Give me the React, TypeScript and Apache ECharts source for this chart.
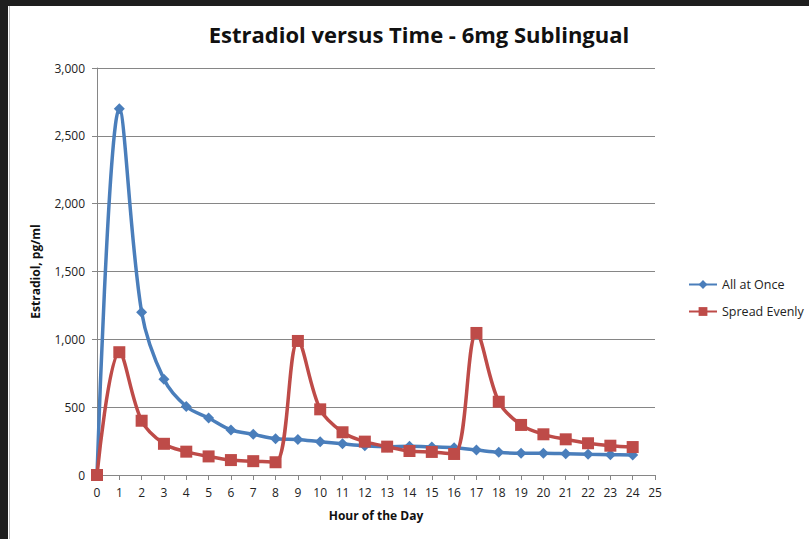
import React, { useEffect, useRef } from "react";
import * as echarts from "echarts";

const hours = [0, 1, 2, 3, 4, 5, 6, 7, 8, 9, 10, 11, 12, 13, 14, 15, 16, 17, 18, 19, 20, 21, 22, 23, 24];
const allAtOnce = [0, 2700, 1200, 705, 505, 420, 332, 300, 268, 262, 245, 230, 216, 209, 212, 207, 200, 184, 167, 160, 160, 157, 153, 150, 147];
const spreadEvenly = [0, 905, 400, 230, 172, 137, 110, 102, 94, 988, 484, 315, 246, 209, 177, 170, 155, 1047, 540, 369, 300, 263, 234, 216, 206];
const seriesNames = ["All at Once", "Spread Evenly"];

const FONT = "Open Sans, Liberation Sans, sans-serif";

export default function App() {
  const ref = useRef<HTMLDivElement>(null);
  useEffect(() => {
    if (!ref.current) return;
    const chart = echarts.init(ref.current, null, { renderer: "svg" });
    const pair = (arr: number[]) => hours.map((h, i) => [h, arr[i]]);
    chart.setOption({
      animation: false,
      backgroundColor: "#ffffff",
      textStyle: { fontFamily: FONT },
      graphic: [
        { type: "rect", left: 0, top: 0, shape: { width: 809, height: 6 }, style: { fill: "#1e1e1e" }, silent: true },
        { type: "rect", left: 0, top: 0, shape: { width: 8, height: 539 }, style: { fill: "#1e1e1e" }, silent: true },
        { type: "rect", left: 9, top: 6, shape: { width: 1, height: 533 }, style: { fill: "#bdbdbd" }, silent: true },
      ],
      title: {
        text: "Estradiol versus Time - 6mg Sublingual",
        left: 414,
        top: 18,
        textAlign: "center",
        textStyle: { fontFamily: FONT, fontWeight: "bold", fontSize: 22, color: "#111111" },
      },
      legend: {
        orient: "vertical",
        left: 683,
        top: 273,
        itemGap: 14,
        itemWidth: 28,
        itemHeight: 11,
        textStyle: { fontFamily: FONT, fontSize: 12.5, color: "#222222" },
        data: seriesNames,
      },
      grid: { left: 97, right: 154, top: 68, bottom: 64, containLabel: false },
      xAxis: {
        type: "value",
        min: 0,
        max: 25,
        interval: 1,
        name: "Hour of the Day",
        nameLocation: "middle",
        nameGap: 34,
        nameTextStyle: { fontFamily: FONT, fontWeight: "bold", fontSize: 12, color: "#111111" },
        axisLine: { show: true, lineStyle: { color: "#868686", width: 1 } },
        axisTick: { show: true, inside: false, length: 5, lineStyle: { color: "#868686" } },
        axisLabel: { fontFamily: FONT, fontSize: 12, color: "#222222", margin: 11 },
        splitLine: { show: false },
      },
      yAxis: {
        type: "value",
        min: 0,
        max: 3000,
        interval: 500,
        name: "Estradiol, pg/ml",
        nameLocation: "middle",
        nameGap: 56,
        nameTextStyle: { fontFamily: FONT, fontWeight: "bold", fontSize: 12, color: "#111111" },
        axisLine: { show: true, lineStyle: { color: "#868686", width: 1 } },
        axisTick: { show: true, inside: false, length: 5, lineStyle: { color: "#868686" } },
        axisLabel: {
          fontFamily: FONT,
          fontSize: 12,
          color: "#222222",
          margin: 12,
          formatter: (v: number) => v.toLocaleString("en-US"),
        },
        splitLine: { show: true, lineStyle: { color: "#868686", width: 1 } },
      },
      series: [
        {
          name: seriesNames[0],
          type: "line",
          data: pair(allAtOnce),
          smooth: 0.35,
          symbol: "diamond",
          symbolSize: 11,
          lineStyle: { color: "#4A7EBB", width: 3.5 },
          itemStyle: { color: "#4A7EBB" },
          z: 3,
        },
        {
          name: seriesNames[1],
          type: "line",
          data: pair(spreadEvenly),
          smooth: 0.35,
          symbol: "rect",
          symbolSize: 12,
          lineStyle: { color: "#BE4B48", width: 3.5 },
          itemStyle: { color: "#BE4B48" },
          z: 4,
        },
      ],
    });
    return () => chart.dispose();
  }, []);
  return (
    <div style={{ position: "fixed", left: 0, top: 0, width: 809, height: 539, background: "#ffffff" }}>
      <div ref={ref} style={{ width: 809, height: 539 }} />
    </div>
  );
}
